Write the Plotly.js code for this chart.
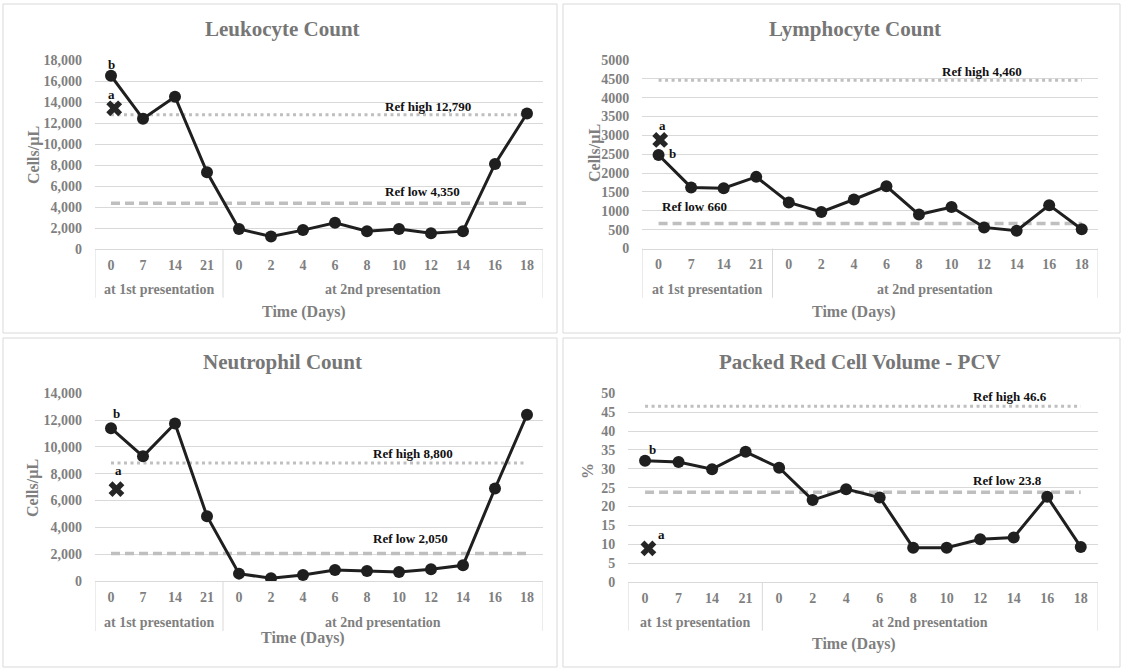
<!DOCTYPE html>
<html>
<head>
<meta charset="utf-8">
<script src="https://cdn.plot.ly/plotly-3.0.1.min.js"></script>
<style>html,body{margin:0;padding:0;background:#fff}#chart{width:1123px;height:670px}</style>
</head>
<body>
<div id="chart"></div>
<script>
// ---------- DATA ----------
const groups = ['at 1st presentation','at 1st presentation','at 1st presentation','at 1st presentation',
  'at 2nd presentation','at 2nd presentation','at 2nd presentation','at 2nd presentation','at 2nd presentation',
  'at 2nd presentation','at 2nd presentation','at 2nd presentation','at 2nd presentation','at 2nd presentation'];
const days = ['0','7','14','21','0','2','4','6','8','10','12','14','16','18'];

const titles = ['Leukocyte Count','Lymphocyte Count','Neutrophil Count','Packed Red Cell Volume - PCV'];
const yTitles = ['Cells/µL','Cells/µL','Cells/µL','%'];
const xTitle = 'Time (Days)';

const leukocyte  = [16500,12400,14500,7300,1900,1200,1800,2500,1700,1900,1500,1700,8100,12900];
const lymphocyte = [2480,1620,1600,1900,1220,970,1300,1650,900,1100,560,470,1150,510];
const neutrophil = [11400,9300,11750,4830,550,200,450,820,750,670,870,1170,6900,12400];
const pcv        = [32.1,31.8,29.9,34.5,30.3,21.7,24.6,22.4,9.1,9.1,11.3,11.8,22.6,9.3];

const markA = [13400, 2880, 6850, 8.9];        // "a" values (day 0, 1st presentation)
const refHigh = [12790, 4460, 8800, 46.6];
const refLow  = [4350, 660, 2050, 23.8];
const yMax  = [18000, 5000, 14000, 50];
const yStep = [2000, 500, 2000, 5];
const yFormat = [',d', 'd', ',d', 'd'];
const series = [leukocyte, lymphocyte, neutrophil, pcv];

// ---------- LAYOUT (pixel geometry) ----------
const W = 1123, H = 670;
const px = x => x / W, py = y => 1 - y / H;
const plots = [ // [left, right, top, bottom] in px
  [95, 543, 60, 249],
  [642.3, 1098, 60, 248.5],
  [95, 543, 393.3, 581],
  [628.3, 1097.5, 393.3, 582]
];
const groupLabelY = [290, 289.5, 622.3, 622.3];
const dividerEnd  = [297.7, 297.7, 631, 630.7];
const borders = [[3,557,4,333],[563,1120,4,333],[3,557,338,667],[563,1120,338,667]];
const titlePos = [[282,29],[855,29],[282,362],[860,362]];
const xTitlePos = [[304,312],[854,312],[303,638],[854,644]];
const yTitlePos = [[34,155],[595,153],[33,488],[587,471]];
const aOffset = [0.1, 0.05, 0.17, 0.1]; // small horizontal offset of the "a" cross (category units)
const bPos = [[111.7,11],[672.7,1.5],[116,15],[652.3,11.4]];
const aPos = [[111.7,14],[662.7,14.5],[118.3,18.6],[661,14.3]];
const refHighPos = [[383,8.7],[940,8.7],[371,9.7],[970.7,10]];
const refLowPos  = [[383,11.6],[660,17],[371,15.2],[970.7,11.5]];

const serif = 'Liberation Serif, Times New Roman, serif';
const grey = '#7f7f7f';
const gridC = '#d9d9d9';

const traces = [];
const layout = {
  width: W, height: H,
  margin: {l:0, r:0, t:0, b:0},
  paper_bgcolor: '#fff', plot_bgcolor: '#fff',
  showlegend: false,
  annotations: [], shapes: []
};

const fmt = v => v.toLocaleString('en-US');
const idx = days.map((d, i) => i);               // category positions
const uniqueGroups = [...new Set(groups)];

for (let i = 0; i < 4; i++) {
  const n = i === 0 ? '' : String(i + 1);
  const xa = 'x' + n, ya = 'y' + n;
  const [l, r, t, b] = plots[i];
  const ends = [idx[0], idx[idx.length - 1]];

  // reference lines
  traces.push({x: ends, y: [refHigh[i], refHigh[i]], xaxis: xa, yaxis: ya, mode: 'lines',
    line: {color: '#bfbfbf', width: 3, dash: '3px,3.5px'}, hoverinfo: 'skip'});
  traces.push({x: ends, y: [refLow[i], refLow[i]], xaxis: xa, yaxis: ya, mode: 'lines',
    line: {color: '#bfbfbf', width: 3.5, dash: '9px,5px'}, hoverinfo: 'skip'});
  // main series
  traces.push({x: idx, y: series[i], xaxis: xa, yaxis: ya, mode: 'lines+markers',
    line: {color: '#1f1f1f', width: 3}, marker: {color: '#1f1f1f', size: 12, symbol: 'circle'}});
  // "a" marker
  traces.push({x: [idx[0] + aOffset[i]], y: [markA[i]], xaxis: xa, yaxis: ya, mode: 'markers',
    marker: {color: '#262626', size: 14, symbol: 'x'}});

  layout['xaxis' + n] = {
    domain: [px(l), px(r)], anchor: ya, range: [-0.5, days.length - 0.5],
    tickmode: 'array', tickvals: idx, ticktext: days,
    showline: true, linecolor: gridC, linewidth: 1, ticks: '', showgrid: false, zeroline: false,
    ticklabelstandoff: 3,
    tickfont: {family: serif, size: 14, color: grey, weight: 'bold'},
    fixedrange: true
  };
  layout['yaxis' + n] = {
    domain: [py(b), py(t)], anchor: xa, range: [0, yMax[i]], dtick: yStep[i], tick0: 0,
    tickformat: yFormat[i], showgrid: true, gridcolor: gridC, gridwidth: 1,
    zeroline: false, showline: false, ticks: '', ticklabelstandoff: 12,
    tickfont: {family: serif, size: 14, color: grey, weight: 'bold'},
    fixedrange: true
  };

  // group labels and dividers of the two-level category axis
  const bounds = [-0.5];
  uniqueGroups.forEach(g => {
    const members = idx.filter(k => groups[k] === g);
    const lo = members[0], hi = members[members.length - 1];
    bounds.push(hi + 0.5);
    layout.annotations.push({text: g, xref: xa, yref: 'paper', x: (lo + hi) / 2, y: py(groupLabelY[i]),
      showarrow: false, xanchor: 'center', yanchor: 'middle',
      font: {family: serif, size: 14, color: grey, weight: 'bold'}});
  });
  bounds.forEach(bx => layout.shapes.push({type: 'line', xref: xa, yref: 'paper', x0: bx, x1: bx,
    y0: py(b), y1: py(dividerEnd[i]), line: {color: gridC, width: 1}}));

  // panel border
  const [bl, br, bt, bb] = borders[i];
  layout.shapes.push({type: 'rect', xref: 'paper', yref: 'paper', x0: px(bl), x1: px(br), y0: py(bb), y1: py(bt),
    line: {color: gridC, width: 1}, layer: 'below'});

  // titles
  layout.annotations.push({text: titles[i], xref: 'paper', yref: 'paper', x: px(titlePos[i][0]), y: py(titlePos[i][1]),
    showarrow: false, xanchor: 'center', yanchor: 'middle',
    font: {family: serif, size: 21, color: '#767676', weight: 'bold'}});
  layout.annotations.push({text: xTitle, xref: 'paper', yref: 'paper', x: px(xTitlePos[i][0]), y: py(xTitlePos[i][1]),
    showarrow: false, xanchor: 'center', yanchor: 'middle',
    font: {family: serif, size: 16, color: grey, weight: 'bold'}});
  layout.annotations.push({text: yTitles[i], xref: 'paper', yref: 'paper', x: px(yTitlePos[i][0]), y: py(yTitlePos[i][1]),
    showarrow: false, xanchor: 'center', yanchor: 'middle', textangle: -90,
    font: {family: serif, size: 16, color: grey, weight: 'bold'}});

  // a / b labels
  const lab = {family: serif, size: 13, color: '#111', weight: 'bold'};
  layout.annotations.push({text: 'b', xref: 'paper', yref: ya, x: px(bPos[i][0]), y: series[i][0], yshift: bPos[i][1],
    showarrow: false, xanchor: 'center', yanchor: 'middle', font: lab});
  layout.annotations.push({text: 'a', xref: 'paper', yref: ya, x: px(aPos[i][0]), y: markA[i], yshift: aPos[i][1],
    showarrow: false, xanchor: 'center', yanchor: 'middle', font: lab});

  // reference labels
  layout.annotations.push({text: 'Ref high ' + fmt(refHigh[i]), xref: 'paper', yref: ya, x: px(refHighPos[i][0]),
    y: refHigh[i], yshift: refHighPos[i][1], showarrow: false, xanchor: 'left', yanchor: 'middle', font: lab});
  layout.annotations.push({text: 'Ref low ' + fmt(refLow[i]), xref: 'paper', yref: ya, x: px(refLowPos[i][0]),
    y: refLow[i], yshift: refLowPos[i][1], showarrow: false, xanchor: 'left', yanchor: 'middle', font: lab});
}

Plotly.newPlot('chart', traces, layout, {displayModeBar: false, staticPlot: true});
</script>
</body>
</html>
